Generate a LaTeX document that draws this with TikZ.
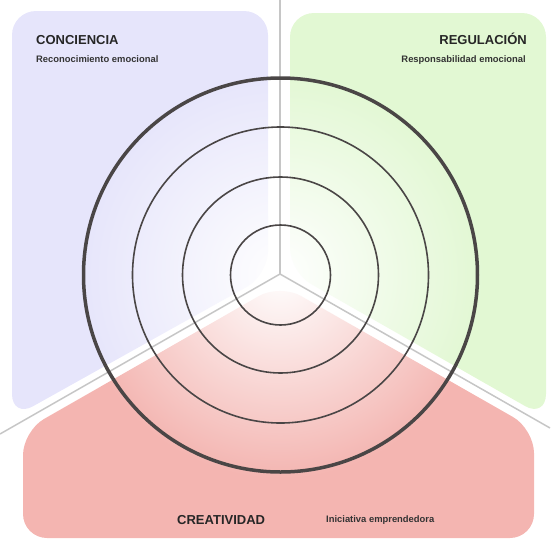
\documentclass[tikz,border=0pt]{standalone}
\usepackage{fontspec}
\setmainfont{Liberation Sans}
\usetikzlibrary{fadings,positioning}
\definecolor{lavender}{HTML}{E6E5FB}
\definecolor{lightgreen}{HTML}{E2F8D3}
\definecolor{salmon}{HTML}{F4B5B1}
\definecolor{ringgray}{HTML}{4A4646}
\tikzfading[name=glow, inner color=transparent!0, outer color=transparent!100]

\begin{document}
\begin{tikzpicture}[x=1pt,y=-1pt]

% definitions
\tikzstyle{panel} = [rounded corners=24pt]

\tikzstyle{divider} = [draw=gray!45, line width=1.5pt]

\tikzstyle{ring} = [draw=ringgray, line width=1.6pt]

\tikzstyle{outerring} = [draw=ringgray, line width=3.5pt]

\tikzstyle{title} = [font=\bfseries\fontsize{13}{15}\selectfont, text=black!85, inner sep=0pt]

\tikzstyle{subtitle} = [font=\bfseries\fontsize{9.4}{11}\selectfont, text=black!80, inner sep=0pt]

\useasboundingbox (0,0) rectangle (550,550);

% the panels
\fill [lavender, panel] (140,11) -- (268,11) -- (268,275) -- (12,418) -- (12,11) -- cycle;

\fill [lightgreen, panel] (420,13) -- (546,13) -- (546,418) -- (290,272) -- (290,13) -- cycle;

\fill [salmon, panel] (400,538) -- (23,538) -- (23,431) -- (280,284) -- (534,429) -- (534,538) -- cycle;

\fill [white, path fading=glow] (280,274) circle (205);

% the graph
\coordinate (j) at (280,274);
\coordinate (top) at (280,0);
\coordinate (left) at (0,434);
\coordinate (right) at (550,428);
\coordinate (c) at (280.5,275);

\draw [divider] (j) -- (top);
\draw [divider] (j) -- (left);
\draw [divider] (j) -- (right);

\draw [ring] (c) circle (50);
\draw [ring] (c) circle (98);
\draw [ring] (c) circle (148);
\draw [outerring] (c) circle (197);

\node (t1) [title, anchor=base west] at (36,44.5) {CONCIENCIA};
\node (s1) [subtitle, anchor=base west] at (36,62) {Reconocimiento emocional};

\node (t2) [title, anchor=base east] at (527,44.5) {REGULACIÓN};
\node (s2) [subtitle, anchor=base east] at (526,62) {Responsabilidad emocional};

\node (t3) [title, anchor=base west] at (177,524) {CREATIVIDAD};
\node (s3) [subtitle, anchor=base west] at (326,522) {Iniciativa emprendedora};

\end{tikzpicture}
\end{document}
